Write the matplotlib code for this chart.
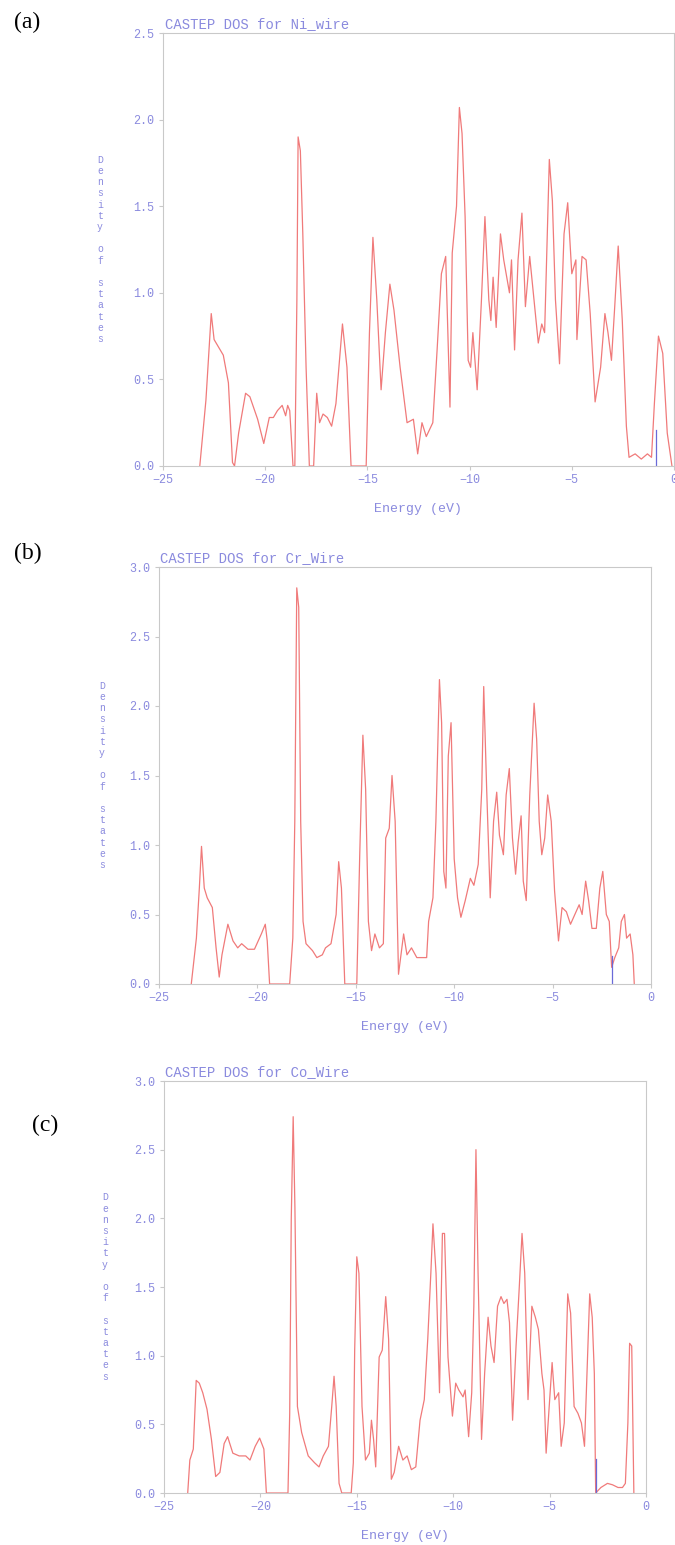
import matplotlib

matplotlib.use("Agg")
import matplotlib.pyplot as plt

# --------------------------------------------------------------------------- #
# Data (energy in eV, DOS in states/eV)
# --------------------------------------------------------------------------- #
ni_energy = [-23.2, -22.9, -22.64, -22.5, -22.2, -22.05, -21.8, -21.6, -21.5,
             -21.3, -20.96, -20.75, -20.37, -20.07, -19.8, -19.6, -19.4, -19.17,
             -19.0, -18.9, -18.8, -18.64, -18.55, -18.45, -18.39, -18.28, -18.16,
             -18.0, -17.84, -17.63, -17.48, -17.34, -17.17, -16.96, -16.75, -16.54,
             -16.22, -16.0, -15.8, -15.06, -14.9, -14.73, -14.54, -14.33, -14.12,
             -13.9, -13.7, -13.4, -13.06, -12.75, -12.54, -12.33, -12.12, -11.8,
             -11.59, -11.38, -11.17, -10.96, -10.85, -10.64, -10.5, -10.37, -10.22,
             -10.07, -9.95, -9.84, -9.63, -9.42, -9.25, -9.06, -8.96, -8.85, -8.7,
             -8.49, -8.33, -8.05, -7.95, -7.8, -7.63, -7.44, -7.27, -7.06, -6.85,
             -6.64, -6.47, -6.33, -6.1, -5.95, -5.8, -5.6, -5.38, -5.2, -5.0, -4.8,
             -4.75, -4.5, -4.3, -4.1, -3.86, -3.59, -3.38, -3.23, -3.06, -2.9,
             -2.73, -2.53, -2.33, -2.2, -1.9, -1.6, -1.3, -1.1, -0.96, -0.76,
             -0.55, -0.33, -0.1]
ni_dos = [0.0, 0.38, 0.88, 0.73, 0.67, 0.64, 0.48, 0.02, 0.0,
          0.19, 0.42, 0.40, 0.27, 0.13, 0.28, 0.28, 0.32, 0.35,
          0.29, 0.35, 0.32, 0.0, 0.0, 0.96, 1.90, 1.82, 1.34,
          0.57, 0.0, 0.0, 0.42, 0.25, 0.30, 0.28, 0.23, 0.36,
          0.82, 0.57, 0.0, 0.0, 0.77, 1.32, 0.96, 0.44, 0.77,
          1.05, 0.90, 0.57, 0.25, 0.27, 0.07, 0.25, 0.17, 0.25,
          0.67, 1.11, 1.21, 0.34, 1.23, 1.50, 2.07, 1.92, 1.44,
          0.61, 0.57, 0.77, 0.44, 0.96, 1.44, 0.96, 0.84, 1.09, 0.80,
          1.34, 1.19, 1.00, 1.19, 0.67, 1.19, 1.46, 0.92, 1.21, 0.96,
          0.71, 0.82, 0.77, 1.77, 1.53, 0.96, 0.59, 1.34, 1.52, 1.11, 1.19,
          0.73, 1.21, 1.19, 0.88, 0.37, 0.57, 0.88, 0.77, 0.61, 0.92,
          1.27, 0.84, 0.23, 0.05, 0.07, 0.04, 0.07, 0.05, 0.36, 0.75,
          0.65, 0.19, 0.0]

cr_energy = [-23.36, -23.1, -22.95, -22.84, -22.7, -22.55, -22.29, -22.1, -21.94,
             -21.8, -21.5, -21.24, -21.0, -20.8, -20.48, -20.15, -19.8, -19.6,
             -19.5, -19.38, -18.36, -18.2, -18.1, -18.0, -17.9, -17.8, -17.68,
             -17.53, -17.2, -16.98, -16.7, -16.54, -16.26, -16.0, -15.87, -15.73,
             -15.56, -14.95, -14.8, -14.64, -14.5, -14.36, -14.2, -14.03, -13.8,
             -13.6, -13.48, -13.3, -13.16, -13.0, -12.83, -12.57, -12.4, -12.17,
             -11.9, -11.4, -11.3, -11.08, -10.93, -10.75, -10.64, -10.53, -10.42,
             -10.3, -10.16, -10.0, -9.83, -9.66, -9.44, -9.18, -9.0, -8.78, -8.6,
             -8.5, -8.35, -8.17, -8.0, -7.84, -7.7, -7.5, -7.36, -7.2, -7.04,
             -6.88, -6.75, -6.6, -6.49, -6.34, -6.16, -5.94, -5.81, -5.68, -5.55,
             -5.4, -5.25, -5.07, -4.9, -4.7, -4.52, -4.3, -4.09, -3.87, -3.65,
             -3.5, -3.32, -3.17, -3.0, -2.78, -2.6, -2.45, -2.27, -2.12, -2.0,
             -1.84, -1.64, -1.51, -1.35, -1.24, -1.06, -0.92, -0.85]
cr_dos = [0.0, 0.33, 0.69, 0.99, 0.69, 0.62, 0.55, 0.26, 0.05,
          0.21, 0.43, 0.31, 0.26, 0.29, 0.25, 0.25, 0.36, 0.43,
          0.31, 0.0, 0.0, 0.33, 1.17, 2.85, 2.71, 1.17, 0.45,
          0.29, 0.24, 0.19, 0.21, 0.26, 0.29, 0.50, 0.88, 0.69,
          0.0, 0.0, 0.93, 1.79, 1.40, 0.45, 0.24, 0.36, 0.26,
          0.29, 1.05, 1.12, 1.50, 1.17, 0.07, 0.36, 0.21, 0.26,
          0.19, 0.19, 0.45, 0.62, 1.17, 2.19, 1.88, 0.81, 0.69,
          1.64, 1.88, 0.90, 0.62, 0.48, 0.60, 0.76, 0.71, 0.86, 1.40,
          2.14, 1.40, 0.62, 1.17, 1.38, 1.07, 0.93, 1.36, 1.55, 1.05,
          0.79, 1.02, 1.21, 0.74, 0.60, 1.36, 2.02, 1.76, 1.17, 0.93,
          1.05, 1.36, 1.17, 0.67, 0.31, 0.55, 0.52, 0.43, 0.50, 0.57,
          0.50, 0.74, 0.60, 0.40, 0.40, 0.69, 0.81, 0.50, 0.45, 0.12,
          0.19, 0.26, 0.45, 0.50, 0.33, 0.36, 0.21, 0.0]

co_energy = [-23.77, -23.66, -23.48, -23.33, -23.17, -22.99, -22.77, -22.54, -22.32,
             -22.1, -21.88, -21.7, -21.43, -21.1, -20.76, -20.54, -20.27, -20.04,
             -19.82, -19.69, -18.57, -18.48, -18.4, -18.3, -18.21, -18.08, -17.86,
             -17.52, -17.19, -16.96, -16.74, -16.47, -16.3, -16.18, -16.07, -15.92,
             -15.78, -15.29, -15.18, -15.11, -15.0, -14.89, -14.73, -14.55, -14.35,
             -14.24, -14.13, -14.02, -13.84, -13.68, -13.5, -13.35, -13.21, -13.06,
             -12.83, -12.61, -12.39, -12.17, -11.94, -11.72, -11.5, -11.32, -11.16,
             -11.05, -10.89, -10.71, -10.56, -10.45, -10.27, -10.04, -9.87, -9.71,
             -9.49, -9.38, -9.2, -9.04, -8.93, -8.82, -8.71, -8.53, -8.37, -8.19,
             -8.04, -7.88, -7.7, -7.52, -7.37, -7.21, -7.08, -6.92, -6.74, -6.58,
             -6.43, -6.29, -6.12, -5.92, -5.74, -5.58, -5.4, -5.29, -5.18, -5.02,
             -4.87, -4.73, -4.53, -4.4, -4.24, -4.06, -3.91, -3.73, -3.53, -3.35,
             -3.19, -3.06, -2.92, -2.79, -2.68, -2.61, -2.34, -2.0, -1.74, -1.45,
             -1.22, -1.07, -0.94, -0.85, -0.74, -0.63]
co_dos = [0.0, 0.24, 0.32, 0.82, 0.80, 0.73, 0.61, 0.39, 0.12,
          0.15, 0.36, 0.41, 0.29, 0.27, 0.27, 0.24, 0.34, 0.40,
          0.32, 0.0, 0.0, 0.58, 1.99, 2.74, 2.08, 0.63, 0.44,
          0.27, 0.22, 0.19, 0.27, 0.34, 0.63, 0.85, 0.63, 0.07,
          0.0, 0.0, 0.22, 1.04, 1.72, 1.60, 0.63, 0.24, 0.29,
          0.53, 0.39, 0.19, 0.99, 1.04, 1.43, 1.12, 0.10, 0.15,
          0.34, 0.24, 0.27, 0.17, 0.19, 0.53, 0.68, 1.12, 1.60,
          1.96, 1.60, 0.73, 1.89, 1.89, 0.99, 0.56, 0.80, 0.75,
          0.70, 0.75, 0.41, 0.73, 1.36, 2.50, 1.60, 0.39, 0.87, 1.28,
          1.07, 0.95, 1.36, 1.43, 1.38, 1.41, 1.24, 0.53, 1.07, 1.48,
          1.89, 1.60, 0.68, 1.36, 1.28, 1.19, 0.87, 0.75, 0.29, 0.63,
          0.95, 0.68, 0.73, 0.34, 0.51, 1.45, 1.31, 0.63, 0.58, 0.51,
          0.34, 0.87, 1.45, 1.28, 0.87, 0.0, 0.04, 0.07, 0.06, 0.04,
          0.04, 0.07, 0.51, 1.09, 1.07, 0.0]

panel_tags = ["(a)", "(b)", "(c)"]
titles = ["CASTEP DOS for Ni_wire", "CASTEP DOS for Cr_Wire", "CASTEP DOS for Co_Wire"]
y_tops = [2.5, 3.0, 3.0]
fermi_levels = [-0.9, -2.0, -2.6]
fermi_heights = [0.21, 0.2, 0.25]
x_ticks = [-25, -20, -15, -10, -5, 0]

TEXT_BLUE = "#8a8ade"
LINE_RED = "#f07a7a"
FRAME = "#c9c9c9"
MONO = "Liberation Mono"

W, H = 675, 1545
# frame boxes in pixels: left, right, top, bottom
boxes = [(163, 674, 33, 466), (159, 651, 567, 984), (164, 646, 1081, 1493)]
tag_pos = [(27, 22), (28, 553), (45, 1125)]
ylabel_x = [100, 102, 105]

fig = plt.figure(figsize=(W / 100, H / 100), dpi=100)
series = [(ni_energy, ni_dos), (cr_energy, cr_dos), (co_energy, co_dos)]

for i, (energy, dos) in enumerate(series):
    l, r, t, b = boxes[i]
    ax = fig.add_axes((l / W, 1 - b / H, (r - l) / W, (b - t) / H))
    ax.plot(energy, dos, color=LINE_RED, lw=0.9, clip_on=False)
    ax.plot([fermi_levels[i]] * 2, [0, fermi_heights[i]], color="#6a6ad8", lw=0.9)
    ax.set_xlim(-25, 0)
    ax.set_ylim(0, y_tops[i])
    ax.set_xticks(x_ticks)
    ax.set_yticks([k * 0.5 for k in range(int(y_tops[i] / 0.5) + 1)])
    ax.set_yticklabels([f"{v:.1f}" for v in ax.get_yticks()])
    for s in ax.spines.values():
        s.set_color(FRAME)
        s.set_linewidth(0.8)
    ax.tick_params(colors=FRAME, labelcolor=TEXT_BLUE, length=3, width=0.8,
                   labelsize=8.5, pad=3)
    for lab in ax.get_xticklabels() + ax.get_yticklabels():
        lab.set_family(MONO)
    ax.set_xlabel("Energy (eV)", family=MONO, fontsize=9.5, color=TEXT_BLUE, labelpad=12)
    ax.text(0.003, 1.004, titles[i], transform=ax.transAxes, family=MONO,
            fontsize=10, color=TEXT_BLUE, ha="left", va="bottom")

    # stacked upright letters, the way the old plotting program drew it
    fig.text(ylabel_x[i] / W, 1 - (t + b) / 2 / H, "\n".join("Density of states"),
             family=MONO, fontsize=7, color=TEXT_BLUE, ha="center", va="center",
             linespacing=1.15)
    fig.text(tag_pos[i][0] / W, 1 - tag_pos[i][1] / H, panel_tags[i],
             family="Liberation Serif", fontsize=17, ha="center", va="center")

fig.savefig("out.png", dpi=100)
